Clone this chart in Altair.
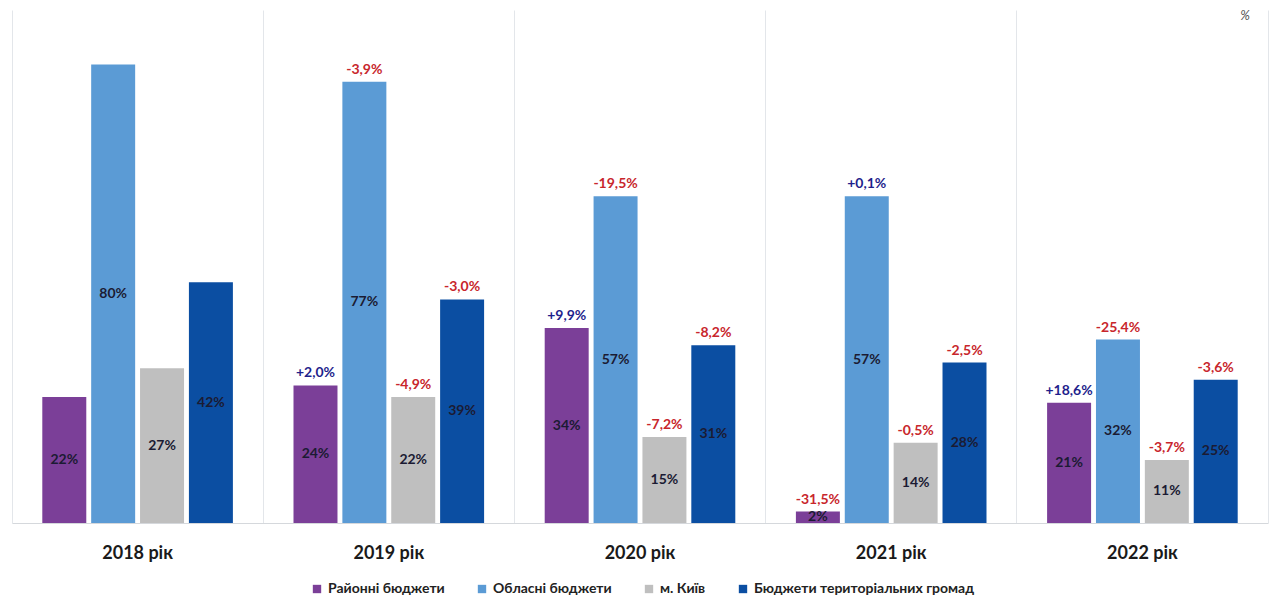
import altair as alt
import pandas as pd

years = ["2018 рік", "2019 рік", "2020 рік", "2021 рік", "2022 рік"]
series = ["Районні бюджети", "Обласні бюджети", "м. Київ", "Бюджети територіальних громад"]
colors = ["#7B3F98", "#5B9BD5", "#BFBFBF", "#0B4EA2"]

# share per year, one list per budget level
raion = [22, 24, 34, 2, 21]
oblast = [80, 77, 57, 57, 32]
kyiv = [27, 22, 15, 14, 11]
hromady = [42, 39, 31, 28, 25]

# change versus previous year, percentage points (none for the first year)
raion_chg = [None, 2.0, 9.9, -31.5, 18.6]
oblast_chg = [None, -3.9, -19.5, 0.1, -25.4]
kyiv_chg = [None, -4.9, -7.2, -0.5, -3.7]
hromady_chg = [None, -3.0, -8.2, -2.5, -3.6]

values = [raion, oblast, kyiv, hromady]
changes = [raion_chg, oblast_chg, kyiv_chg, hromady_chg]


def fmt_change(v):
    if v is None:
        return ""
    s = f"{v:+.1f}".replace(".", ",")
    return s + "%"


rows = []
for si, name in enumerate(series):
    for yi, yr in enumerate(years):
        c = changes[si][yi]
        rows.append({
            "year": yr,
            "series": name,
            "order": si,
            "value": values[si][yi],
            "label": f"{values[si][yi]}%",
            "chg": c if c is not None else 0.0,
            "has_chg": c is not None,
            "chg_label": fmt_change(c),
        })
df = pd.DataFrame(rows)

font = "Lato"

x_enc = alt.X(
    "year:N",
    sort=years,
    title=None,
    scale=alt.Scale(paddingInner=0, paddingOuter=0),
    axis=alt.Axis(
        bandPosition=0,
        grid=True,
        gridColor="#E3E6EA",
        gridWidth=1,
        domainColor="#D5D8DC",
        ticks=False,
        labelFont=font,
        labelFontSize=18,
        labelFontWeight="bold",
        labelColor="#1A1A1A",
        labelPadding=21,
        labelAngle=0,
    ),
)
xoff = alt.XOffset(
    "series:N",
    sort=series,
    scale=alt.Scale(paddingInner=0.1, paddingOuter=0.62),
)
y_scale = alt.Scale(domain=[0, 89.5], nice=False)

base = alt.Chart(df).encode(x=x_enc, xOffset=xoff)

bars = base.mark_bar().encode(
    y=alt.Y(
        "value:Q",
        scale=y_scale,
        title=None,
        axis=alt.Axis(
            orient="right",
            labels=False,
            ticks=False,
            grid=False,
            domainColor="#E3E6EA",
        ),
    ),
    color=alt.Color(
        "series:N",
        sort=series,
        scale=alt.Scale(domain=series, range=colors),
        legend=alt.Legend(
            title=None,
            orient="none",
            legendX=298,
            legendY=572,
            direction="horizontal",
            symbolType="square",
            symbolSize=70,
            symbolStrokeWidth=0,
            labelFont=font,
            labelFontSize=14,
            labelFontWeight="bold",
            labelColor="#222222",
            labelOffset=4,
            labelLimit=0,
            columnPadding=30,
        ),
    ),
)

inner = base.transform_calculate(mid="datum.value / 2").mark_text(
    font=font, fontSize=14, fontWeight="bold", color="#1B1B33"
).encode(
    y=alt.Y("mid:Q", scale=y_scale),
    text="label:N",
)

top = base.transform_filter("datum.has_chg").mark_text(
    font=font, fontSize=14, fontWeight="bold", dy=-12
).encode(
    y=alt.Y("value:Q", scale=y_scale),
    text="chg_label:N",
    color=alt.condition("datum.chg > 0", alt.value("#1F1F8C"), alt.value("#C8262C")),
)

unit = alt.Chart(pd.DataFrame({"t": ["%"]})).mark_text(
    font=font, fontSize=13, fontStyle="italic", color="#555555", align="right"
).encode(
    x=alt.value(1238),
    y=alt.value(6),
    text="t:N",
)

chart = (
    alt.layer(bars, inner, top, unit)
    .properties(
        width=1256,
        height=513,
        padding={"left": 12, "top": 10, "right": 4, "bottom": 76},
        autosize=alt.AutoSizeParams(type="none"),
        background="white",
    )
    .configure_view(stroke=None)
)

chart.save("out.html", embed_options={"renderer": "svg", "actions": False})
